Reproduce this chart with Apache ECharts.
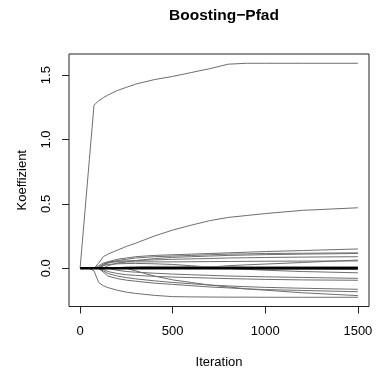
<!DOCTYPE html>
<html><head><meta charset="utf-8">
<script src="https://cdn.jsdelivr.net/npm/echarts@6/dist/echarts.min.js"></script>
<style>html,body{margin:0;padding:0;background:#fff}#c{width:376px;height:369px}</style>
</head><body><div id="c"></div>
<script>
const titleText = 'Boosting\u2212Pfad';
const xLabel = 'Iteration';
const yLabel = 'Koeffizient';
const xTicks = [0, 500, 1000, 1500];
const yTicks = [0, 0.5, 1.0, 1.5];
const iterations = [0, 50, 75, 100, 125, 150, 200, 250, 300, 400, 500, 600, 700, 800, 900, 1000, 1200, 1500];

const coefA  = [0, 0.845, 1.267, 1.30, 1.325, 1.345, 1.38, 1.405, 1.43, 1.465, 1.49, 1.52, 1.55, 1.585, 1.592, 1.592, 1.592, 1.592];
const coefB  = [0, 0, 0, 0.04, 0.09, 0.11, 0.14, 0.17, 0.195, 0.25, 0.297, 0.335, 0.37, 0.395, 0.41, 0.425, 0.45, 0.47];
const coefU1 = [0, 0, 0, 0, 0.03, 0.05, 0.07, 0.08, 0.09, 0.10, 0.105, 0.11, 0.115, 0.12, 0.125, 0.13, 0.138, 0.15];
const coefU2 = [0, 0, 0, 0, 0.02, 0.04, 0.06, 0.07, 0.08, 0.09, 0.095, 0.10, 0.105, 0.11, 0.112, 0.115, 0.117, 0.12];
const coefU3 = [0, 0, 0, 0, 0, 0.02, 0.04, 0.05, 0.06, 0.075, 0.085, 0.09, 0.095, 0.10, 0.103, 0.106, 0.11, 0.115];
const coefU4 = [0, 0, 0, 0.02, 0.04, 0.05, 0.055, 0.058, 0.06, 0.065, 0.07, 0.073, 0.076, 0.08, 0.082, 0.084, 0.087, 0.09];
const coefU5 = [0, 0, 0, 0.01, 0.03, 0.045, 0.05, 0.05, 0.05, 0.05, 0.05, 0.051, 0.052, 0.053, 0.054, 0.055, 0.056, 0.057];
const coefU6 = [0, 0, 0, 0, 0, 0, 0, 0, 0, 0, 0, 0, 0.01, 0.02, 0.027, 0.033, 0.045, 0.064];
const coefU7 = [0, 0, 0, 0, 0, 0, 0.005, 0.01, 0.012, 0.015, 0.015, 0.014, 0.013, 0.013, 0.012, 0.012, 0.012, 0.012];
const coefX1 = [0, 0, 0, 0, 0.02, 0.03, 0.035, 0.037, 0.038, 0.035, 0.03, 0.02, 0.01, 0, -0.008, -0.015, -0.025, -0.035];
const coefX2 = [0, 0, 0, 0, 0, 0, 0, 0, 0, 0, 0, 0, -0.002, -0.003, -0.004, -0.005, -0.006, -0.008];
const coefDa = [0, 0, -0.02, -0.11, -0.135, -0.15, -0.17, -0.185, -0.195, -0.21, -0.22, -0.222, -0.223, -0.224, -0.224, -0.225, -0.225, -0.225];
const coefDb = [0, 0, 0, 0, 0, 0, 0, 0, -0.02, -0.06, -0.09, -0.11, -0.13, -0.145, -0.16, -0.17, -0.19, -0.212];
const coefDc = [0, 0, 0, 0, -0.03, -0.06, -0.08, -0.092, -0.10, -0.115, -0.125, -0.135, -0.145, -0.152, -0.16, -0.165, -0.172, -0.182];
const coefDd = [0, 0, 0, 0, -0.02, -0.04, -0.06, -0.072, -0.082, -0.097, -0.11, -0.12, -0.13, -0.137, -0.143, -0.148, -0.155, -0.163];
const coefDe = [0, 0, 0, 0, -0.01, -0.025, -0.04, -0.05, -0.055, -0.062, -0.068, -0.072, -0.076, -0.08, -0.083, -0.086, -0.09, -0.093];
const coefDf = [0, 0, 0, 0, 0, 0, -0.015, -0.025, -0.03, -0.038, -0.045, -0.05, -0.055, -0.06, -0.063, -0.066, -0.071, -0.078];
const coefZero = [0, 0, 0, 0, 0, 0, 0, 0, 0, 0, 0, 0, 0, 0, 0, 0, 0, 0];

const grayPaths = [coefA, coefB, coefU1, coefU2, coefU3, coefU4, coefU5, coefU6, coefU7, coefX1, coefX2, coefDa, coefDb, coefDc, coefDd, coefDe, coefDf];

const font = 'Liberation Sans, Arial, Helvetica, sans-serif';
const pair = arr => iterations.map((x, i) => [x, arr[i]]);
const series = grayPaths.map(p => ({
  type: 'line', data: pair(p), showSymbol: false, symbol: 'none',
  lineStyle: { color: '#6e6e6e', width: 1 }, silent: true, z: 2
}));
series.push({
  type: 'line', data: pair(coefZero), showSymbol: false, symbol: 'none',
  lineStyle: { color: '#000', width: 2.6 }, silent: true, z: 3
});

const chart = echarts.init(document.getElementById('c'), null, { renderer: 'canvas' });
chart.setOption({
  animation: false,
  backgroundColor: '#fff',
  title: {
    text: titleText, left: 219, top: 3, textAlign: 'center',
    textStyle: { fontFamily: font, fontSize: 15.5, fontWeight: 'bold', color: '#000' }
  },
  grid: { left: 69, right: 7, top: 54, bottom: 62.5, show: true, borderColor: '#222', borderWidth: 1,
    containLabel: false, outerBoundsMode: 'none' },
  xAxis: {
    type: 'value', min: -60, max: 1560,
    name: xLabel, nameLocation: 'middle', nameGap: 49,
    nameTextStyle: { fontFamily: font, fontSize: 13, color: '#000' },
    axisLine: { show: false, onZero: false },
    splitLine: { show: false },
    axisTick: { show: true, length: 7, customValues: xTicks, lineStyle: { color: '#222' } },
    axisLabel: { customValues: xTicks, margin: 18, fontFamily: font, fontSize: 13, color: '#000',
      formatter: v => String(v) }
  },
  yAxis: {
    type: 'value', min: -0.2966, max: 1.664,
    name: yLabel, nameLocation: 'middle', nameGap: 40,
    nameTextStyle: { fontFamily: font, fontSize: 13, color: '#000' },
    axisLine: { show: false, onZero: false },
    splitLine: { show: false },
    axisTick: { show: true, length: 7, customValues: yTicks, lineStyle: { color: '#222' } },
    axisLabel: { customValues: yTicks, rotate: 90, margin: 16, fontFamily: font, fontSize: 13, color: '#000',
      formatter: v => v.toFixed(1) }
  },
  series: series
});
</script></body></html>
